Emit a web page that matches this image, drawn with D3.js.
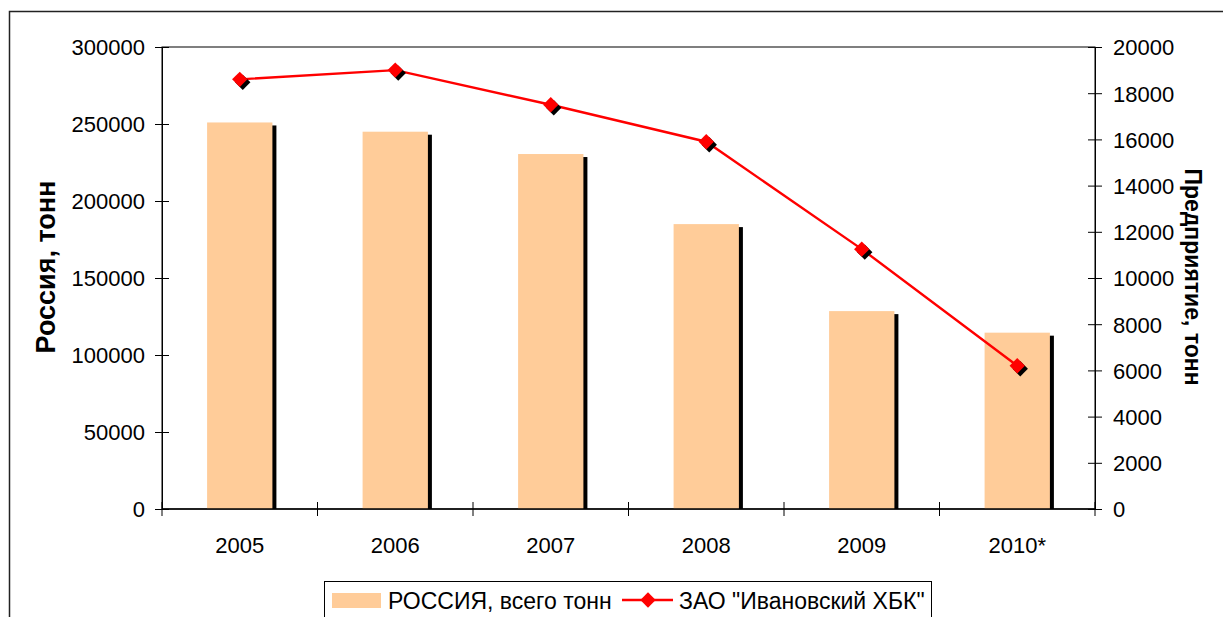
<!DOCTYPE html>
<html>
<head>
<meta charset="utf-8">
<script src="https://d3js.org/d3.v7.min.js"></script>
<style>
  body { margin: 0; background: #fff; overflow: hidden; }
  svg { display: block; }
  svg text { font-family: "Liberation Sans", Arial, sans-serif; fill: #000; }
</style>
</head>
<body>
<svg id="chart" width="1223" height="617"></svg>
<script>
// data
const years = ['2005', '2006', '2007', '2008', '2009', '2010*'];
const russia = [251000, 245000, 230500, 185000, 128500, 114500];
const plant = [18600, 19000, 17500, 15900, 11250, 6200];
const leftTicks = [0, 50000, 100000, 150000, 200000, 250000, 300000];
const rightTicks = [0, 2000, 4000, 6000, 8000, 10000, 12000, 14000, 16000, 18000, 20000];
const seriesNames = ['РОССИЯ, всего тонн', 'ЗАО "Ивановский ХБК"'];

const svg = d3.select('#chart');
const pLeft = 162, pRight = 1095, pTop = 47, pBottom = 509;
const fs = '22px';

// outer chart frame
svg.append('rect')
  .attr('x', 9.5).attr('y', 11.5)
  .attr('width', 1230).attr('height', 640)
  .attr('fill', 'none').attr('stroke', '#222').attr('stroke-width', 1.5);

const x = d3.scaleBand().domain(years).range([pLeft, pRight]).paddingInner(0).paddingOuter(0);
const yL = d3.scaleLinear().domain([0, 300000]).range([pBottom, pTop]);
const yR = d3.scaleLinear().domain([0, 20000]).range([pBottom, pTop]);

// plot area border
svg.append('rect')
  .attr('x', pLeft).attr('y', pTop)
  .attr('width', pRight - pLeft).attr('height', pBottom - pTop)
  .attr('fill', 'none').attr('stroke', '#000').attr('stroke-width', 1);

const barW = x.bandwidth() * 0.42;

// bar shadows
svg.append('g').selectAll('rect')
  .data(russia)
  .join('rect')
  .attr('x', (d, i) => x(years[i]) + (x.bandwidth() - barW) / 2 + 4)
  .attr('y', d => yL(d) + 3)
  .attr('width', barW)
  .attr('height', d => pBottom - yL(d) - 3)
  .attr('fill', '#000');

// bars
svg.append('g').selectAll('rect')
  .data(russia)
  .join('rect')
  .attr('x', (d, i) => x(years[i]) + (x.bandwidth() - barW) / 2)
  .attr('y', d => yL(d))
  .attr('width', barW)
  .attr('height', d => pBottom - yL(d))
  .attr('fill', '#ffcc99');

// left axis
const axL = svg.append('g')
  .attr('transform', `translate(${pLeft},0)`)
  .call(d3.axisLeft(yL).tickValues(leftTicks).tickSize(7).tickFormat(d3.format('d')));
axL.selectAll('line').attr('x2', -7).attr('x1', 7).attr('stroke', '#000');
axL.select('.domain').attr('stroke', '#000');
axL.selectAll('text').style('font-size', fs).attr('font-family', null).attr('x', -17).attr('dy', '0.36em');

// right axis
const axR = svg.append('g')
  .attr('transform', `translate(${pRight},0)`)
  .call(d3.axisRight(yR).tickValues(rightTicks).tickSize(7).tickFormat(d3.format('d')));
axR.selectAll('line').attr('x1', -7).attr('x2', 7).attr('stroke', '#000');
axR.select('.domain').attr('stroke', '#000');
axR.selectAll('text').style('font-size', fs).attr('font-family', null).attr('x', 18).attr('dy', '0.36em');

// x axis with ticks at category boundaries
const axX = svg.append('g').attr('transform', `translate(0,${pBottom})`);
axX.append('line').attr('x1', pLeft).attr('x2', pRight).attr('stroke', '#000').attr('stroke-width', 1.5);
axX.selectAll('.tk')
  .data(years.concat(['end']))
  .join('line')
  .attr('x1', (d, i) => pLeft + i * x.bandwidth())
  .attr('x2', (d, i) => pLeft + i * x.bandwidth())
  .attr('y1', -7).attr('y2', 7)
  .attr('stroke', '#000');
axX.selectAll('text')
  .data(years)
  .join('text')
  .attr('x', d => x(d) + x.bandwidth() / 2)
  .attr('y', 44)
  .attr('text-anchor', 'middle')
  .style('font-size', fs)
  .text(d => d);

// line series
const line = d3.line()
  .x((d, i) => x(years[i]) + x.bandwidth() / 2)
  .y(d => yR(d));
svg.append('path')
  .datum(plant)
  .attr('d', line)
  .attr('fill', 'none')
  .attr('stroke', '#ff0000')
  .attr('stroke-width', 2.4);

const diamond = d3.symbol().type(d3.symbolDiamond2).size(150);
const pts = svg.append('g');
pts.selectAll('.sh')
  .data(plant)
  .join('path')
  .attr('d', diamond)
  .attr('transform', (d, i) => `translate(${x(years[i]) + x.bandwidth() / 2 + 3},${yR(d) + 3})`)
  .attr('fill', '#000');
pts.selectAll('.mk')
  .data(plant)
  .join('path')
  .attr('d', diamond)
  .attr('transform', (d, i) => `translate(${x(years[i]) + x.bandwidth() / 2},${yR(d)})`)
  .attr('fill', '#ff0000');

// axis titles
svg.append('text')
  .attr('transform', 'translate(55,267) rotate(-90)')
  .attr('text-anchor', 'middle')
  .style('font-size', '27px').style('font-weight', 'bold')
  .text('Россия, тонн');
svg.append('text')
  .attr('transform', 'translate(1185,277) rotate(90)')
  .attr('text-anchor', 'middle')
  .style('font-size', '23px').style('font-weight', 'bold')
  .text('Предприятие, тонн');

// legend
const lg = svg.append('g');
lg.append('rect')
  .attr('x', 324.5).attr('y', 581.5)
  .attr('width', 607).attr('height', 60)
  .attr('fill', '#fff').attr('stroke', '#000').attr('stroke-width', 1);
lg.append('rect')
  .attr('x', 332).attr('y', 593).attr('width', 49).attr('height', 15)
  .attr('fill', '#ffcc99');
lg.append('text').attr('x', 388).attr('y', 609).style('font-size', '23px').text(seriesNames[0]);
lg.append('line')
  .attr('x1', 622).attr('x2', 673).attr('y1', 600).attr('y2', 600)
  .attr('stroke', '#ff0000').attr('stroke-width', 2.4);
lg.append('path')
  .attr('d', diamond)
  .attr('transform', 'translate(648,600)')
  .attr('fill', '#ff0000');
lg.append('text').attr('x', 679).attr('y', 609).style('font-size', '23px').text(seriesNames[1]);
</script>
</body>
</html>
